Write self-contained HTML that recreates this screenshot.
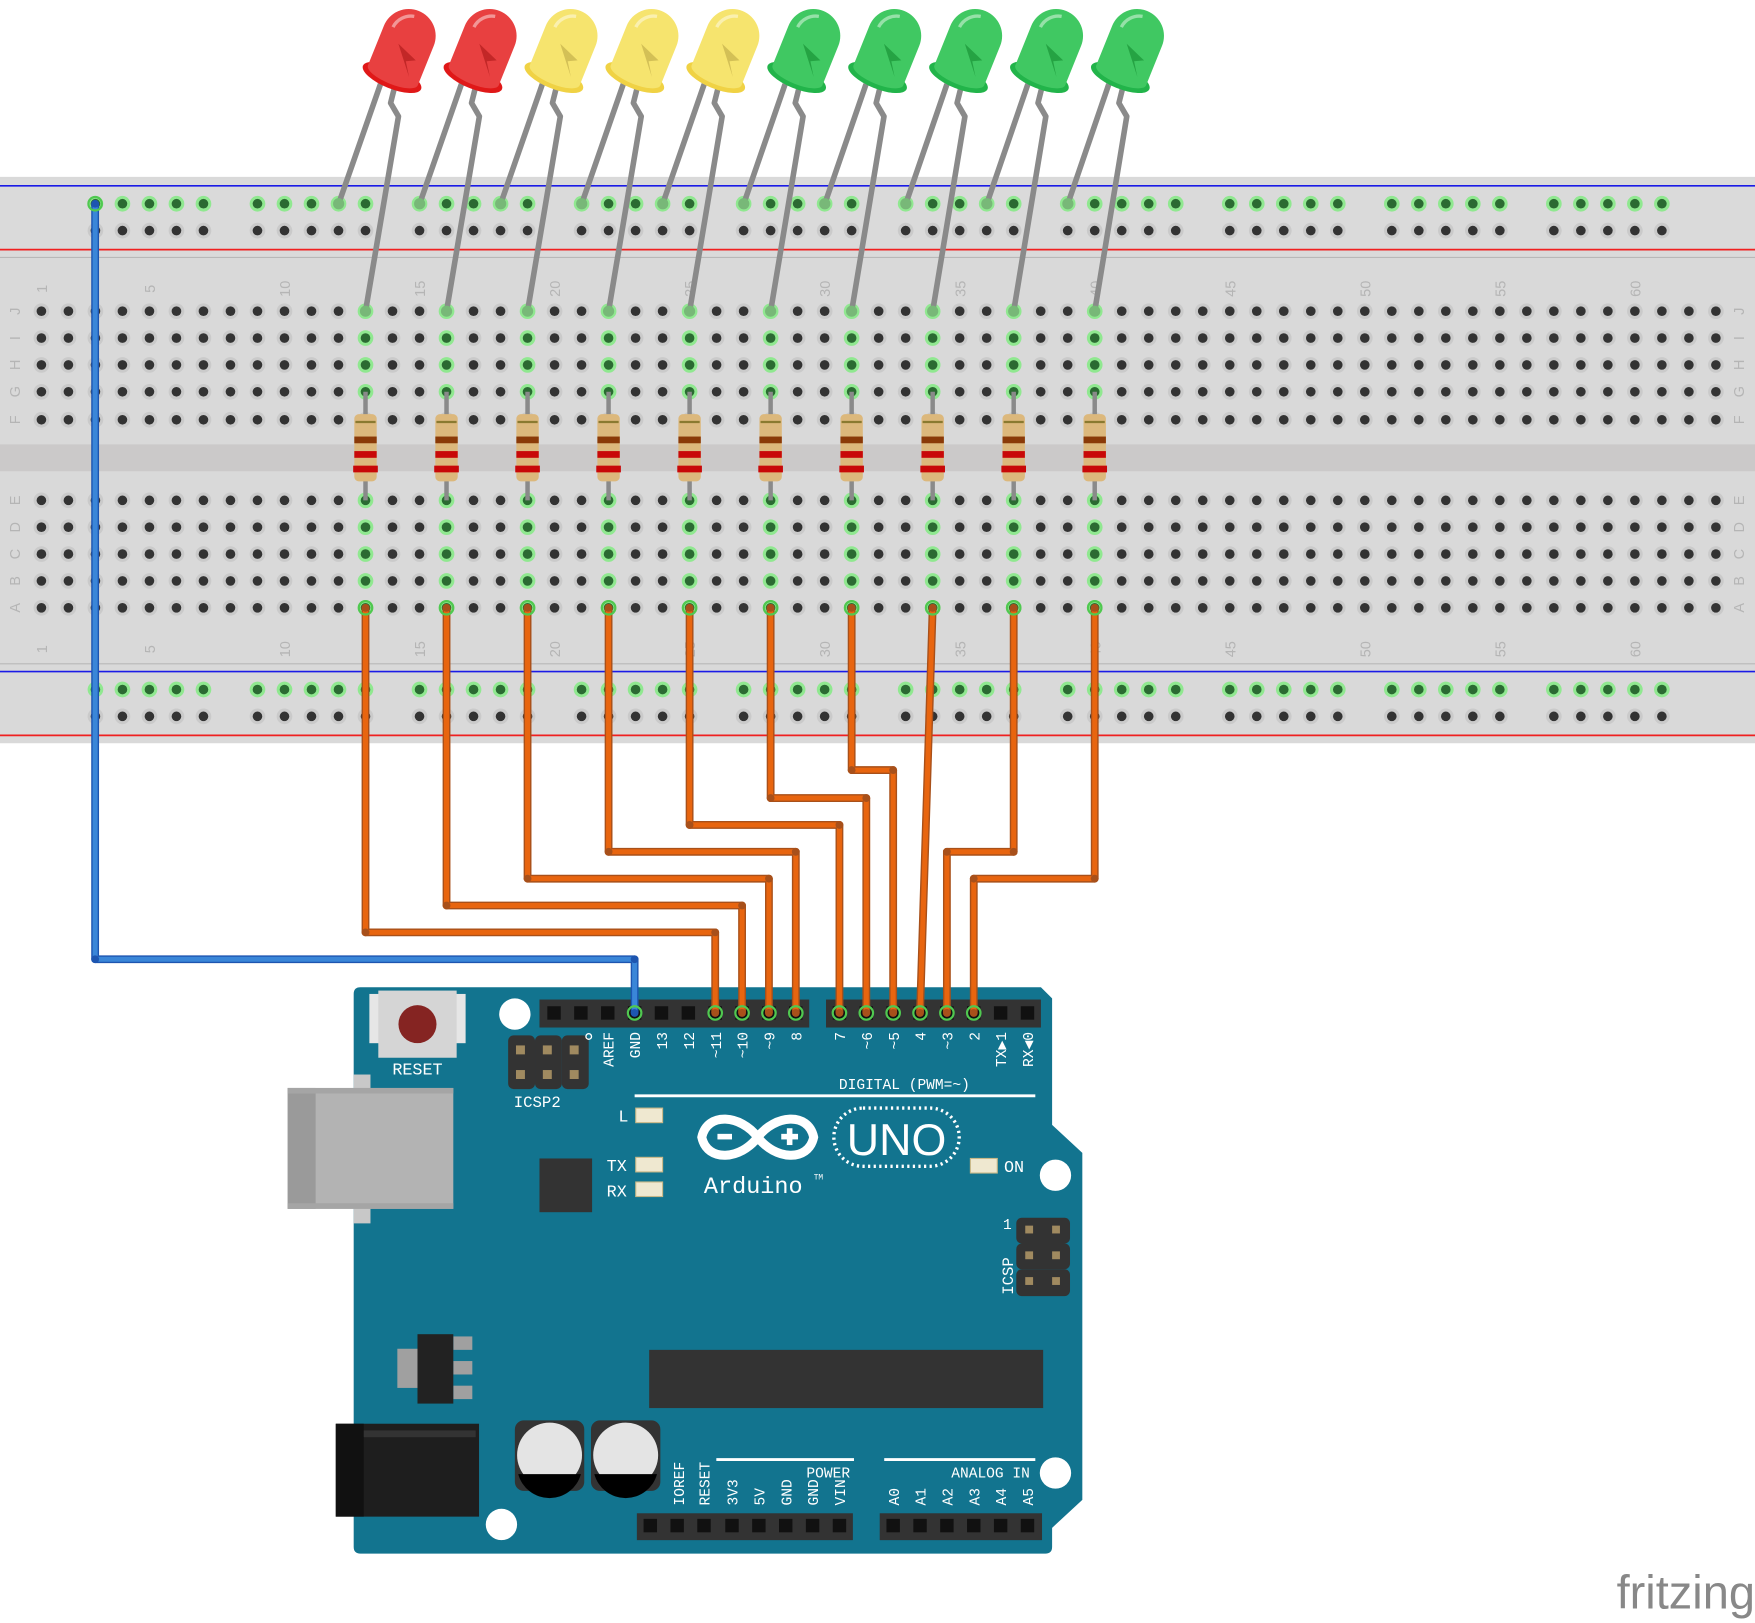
<!DOCTYPE html>
<html><head><meta charset="utf-8"><style>
html,body{margin:0;padding:0;background:#fff;width:1755px;height:1623px;overflow:hidden}
svg{display:block}
.m{font-family:"Liberation Mono","DejaVu Sans Mono",monospace;fill:#fff}
</style></head><body>
<svg id="s" width="1755" height="1623" viewBox="0 0 1568 1450" xmlns="http://www.w3.org/2000/svg">
<rect x="0" y="158" width="1568" height="506" fill="#d9d9d9"/>
<rect x="0" y="160" width="1568" height="70" fill="#dadada"/>
<line x1="0" y1="166" x2="1568" y2="166" stroke="#1a1ae6" stroke-width="1.5"/>
<line x1="0" y1="223" x2="1568" y2="223" stroke="#f02020" stroke-width="1.5"/>
<line x1="0" y1="230" x2="1568" y2="230" stroke="#b8b8b8" stroke-width="1"/>
<rect x="0" y="397" width="1568" height="24" fill="#cbc9c9"/>
<line x1="0" y1="593" x2="1568" y2="593" stroke="#b8b8b8" stroke-width="1"/>
<line x1="0" y1="600" x2="1568" y2="600" stroke="#1a1ae6" stroke-width="1.5"/>
<line x1="0" y1="657" x2="1568" y2="657" stroke="#f02020" stroke-width="1.5"/>
<g id="holes"></g>
<g id="labels" font-family="Liberation Sans, sans-serif" font-size="13" fill="#b5b5b5"></g>
<g id="parts"></g>
<g id="ard">
<path d="M322,882 L930,882 L940,892 L940,1005 L967,1030 L967,1340 L940,1365 L940,1382 Q940,1388 934,1388 L322,1388 Q316,1388 316,1382 L316,888 Q316,882 322,882 Z" fill="#12748f"/>
<rect x="316" y="960" width="15" height="133" fill="#c8c8c8"/>
<rect x="257" y="972" width="148" height="108" fill="#b3b3b3"/>
<rect x="257" y="972" width="25" height="108" fill="#9a9a9a"/>
<rect x="257" y="972" width="148" height="5" fill="#a5a5a5"/>
<rect x="257" y="1075" width="148" height="5" fill="#a5a5a5"/>
<rect x="330" y="888" width="86" height="44" fill="#e6e6e6"/>
<rect x="338" y="885" width="70" height="60" fill="#d5d5d5"/>
<ellipse cx="373" cy="915" rx="17" ry="17" fill="#852422"/>
<text x="373" y="960" class="m" font-size="15" text-anchor="middle">RESET</text>
<circle cx="460" cy="906" r="14" fill="#fff"/>
<circle cx="943" cy="1050" r="14" fill="#fff"/>
<circle cx="943" cy="1316" r="14" fill="#fff"/>
<circle cx="448" cy="1362" r="14" fill="#fff"/>
<g fill="#333"><rect x="454" y="925" width="24" height="48" rx="5"/><rect x="478" y="925" width="24" height="48" rx="5"/><rect x="502" y="925" width="24" height="48" rx="5"/></g>
<g fill="#a08a60"><rect x="461" y="934" width="8" height="8"/><rect x="485" y="934" width="8" height="8"/><rect x="509" y="934" width="8" height="8"/><rect x="461" y="956" width="8" height="8"/><rect x="485" y="956" width="8" height="8"/><rect x="509" y="956" width="8" height="8"/></g>
<circle cx="526" cy="926" r="2.5" fill="none" stroke="#fff" stroke-width="1.2"/>
<text x="480" y="989" class="m" font-size="14" text-anchor="middle">ICSP2</text>
<rect x="482" y="893" width="241" height="25" fill="#333"/>
<rect x="738" y="893" width="192" height="25" fill="#333"/>
<rect x="569" y="1352" width="193" height="24" fill="#333"/>
<rect x="786" y="1352" width="145" height="24" fill="#333"/>
<g id="pins"></g>
<line x1="567" y1="979" x2="925" y2="979" stroke="#fff" stroke-width="2.5"/>
<text x="808" y="973" class="m" font-size="13" text-anchor="middle">DIGITAL (PWM=~)</text>
<rect x="568" y="990" width="24" height="13" fill="#efe8d0" stroke="#c8b888"/>
<text x="557" y="1002" class="m" font-size="15" text-anchor="middle">L</text>
<rect x="568" y="1034" width="24" height="13" fill="#efe8d0" stroke="#c8b888"/>
<rect x="568" y="1056" width="24" height="13" fill="#efe8d0" stroke="#c8b888"/>
<text x="551" y="1046" class="m" font-size="15" text-anchor="middle">TX</text>
<text x="551" y="1069" class="m" font-size="15" text-anchor="middle">RX</text>
<rect x="867" y="1035" width="24" height="13" fill="#efe8d0" stroke="#c8b888"/>
<text x="906" y="1047" class="m" font-size="15" text-anchor="middle">ON</text>
<rect x="482" y="1035" width="47" height="48" fill="#333"/>
<g fill="none" stroke="#fff" stroke-width="8">
<path d="M677,1016 C662,996 632,993 627,1016 C632,1039 662,1036 677,1016 C692,996 722,993 727,1016 C722,1039 692,1036 677,1016 Z"/>
</g>
<rect x="641" y="1013" width="13" height="5" fill="#fff"/>
<rect x="698" y="1013" width="15" height="5" fill="#fff"/><rect x="703" y="1008" width="5" height="15" fill="#fff"/>
<rect x="745" y="990" width="112" height="52" rx="26" fill="none" stroke="#fff" stroke-width="3" stroke-dasharray="2,3"/>
<text x="801" y="1032" font-family="Liberation Sans, sans-serif" font-size="40" fill="#fff" text-anchor="middle">UNO</text>
<text x="673" y="1066" class="m" font-size="21" text-anchor="middle">Arduino</text>
<text x="727" y="1054" class="m" font-size="7">TM</text>
<g fill="#333"><rect x="908" y="1088" width="48" height="23" rx="5"/><rect x="908" y="1111" width="48" height="23" rx="5"/><rect x="908" y="1134" width="48" height="24" rx="5"/></g>
<g fill="#a08a60"><rect x="916" y="1095" width="7" height="7"/><rect x="940" y="1095" width="7" height="7"/><rect x="916" y="1118" width="7" height="7"/><rect x="940" y="1118" width="7" height="7"/><rect x="916" y="1141" width="7" height="7"/><rect x="940" y="1141" width="7" height="7"/></g>
<text x="900" y="1098" class="m" font-size="13" text-anchor="middle">1</text>
<text transform="translate(905,1140) rotate(-90)" class="m" font-size="14" text-anchor="middle">ICSP</text>
<rect x="355" y="1205" width="20" height="35" fill="#a0a0a0"/>
<rect x="405" y="1194" width="17" height="12" fill="#a0a0a0"/>
<rect x="405" y="1216" width="17" height="12" fill="#a0a0a0"/>
<rect x="405" y="1238" width="17" height="12" fill="#a0a0a0"/>
<rect x="373" y="1192" width="32" height="62" fill="#222"/>
<rect x="580" y="1206" width="352" height="52" fill="#333"/>
<rect x="300" y="1272" width="128" height="83" fill="#1e1e1e"/>
<rect x="300" y="1272" width="25" height="83" fill="#111"/>
<rect x="325" y="1278" width="100" height="6" fill="#333"/>
<rect x="460" y="1269" width="62" height="63" rx="8" fill="#333"/>
<rect x="528" y="1269" width="62" height="63" rx="8" fill="#333"/>
<ellipse cx="491" cy="1300" rx="29" ry="29" fill="#e4e4e4"/>
<ellipse cx="559" cy="1300" rx="29" ry="29" fill="#e4e4e4"/>
<path d="M463,1317 L519,1317 A29,29 0 0 1 463,1317 Z" fill="#000"/>
<path d="M531,1317 L587,1317 A29,29 0 0 1 531,1317 Z" fill="#000"/>
<line x1="640" y1="1304" x2="763" y2="1304" stroke="#fff" stroke-width="2.5"/>
<line x1="790" y1="1304" x2="925" y2="1304" stroke="#fff" stroke-width="2.5"/>
<text x="740" y="1320" class="m" font-size="13" text-anchor="middle">POWER</text>
<text x="885" y="1320" class="m" font-size="13" text-anchor="middle">ANALOG IN</text>
</g>
<g id="wires"></g>
<text x="1568" y="1437" font-family="Liberation Sans, DejaVu Sans, sans-serif" font-size="42" fill="#888" text-anchor="end">fritzing</text>
</svg>
<script>
var NS="http://www.w3.org/2000/svg";
function el(p,t,a,txt){var e=document.createElementNS(NS,t);for(var k in a)e.setAttribute(k,a[k]);if(txt!==undefined)e.textContent=txt;document.getElementById(p).appendChild(e);return e;}
function cx(c){return 37+(c-1)*24.13;}
var ledCols=[13,16,19,22,25,28,31,34,37,40];
function hole(x,y,g){el("holes","circle",{cx:x,cy:y,r:7,fill:g?"#90e890":"#cacaca"});el("holes","circle",{cx:x,cy:y,r:4.3,fill:g?"#2b6a32":"#333"});}
for(var c=3;c<=61;c++){if((c-2)%6==0)continue;
 hole(cx(c),182,true);hole(cx(c),206,false);hole(cx(c),616,true);hole(cx(c),640,false);}
var rowsT=[278,302,326,350,375],rowsB=[447,471,495,519,543];
for(var c=1;c<=63;c++){var g=ledCols.indexOf(c)>=0;
 rowsT.forEach(function(y,i){hole(cx(c),y,g&&i<4);});
 rowsB.forEach(function(y){hole(cx(c),y,g);});}
[1,5,10,15,20,25,30,35,40,45,50,55,60].forEach(function(n){
 [258,580].forEach(function(y){el("labels","text",{transform:"translate("+(cx(n)+5)+","+y+") rotate(-90)","text-anchor":"middle"},String(n));});});
var L1=["J","I","H","G","F"],L2=["E","D","C","B","A"];
[[13,0],[1553,0]].forEach(function(p){
 L1.forEach(function(l,i){el("labels","text",{transform:"translate("+(p[0]+5)+","+rowsT[i]+") rotate(-90)","text-anchor":"middle"},l);});
 L2.forEach(function(l,i){el("labels","text",{transform:"translate("+(p[0]+5)+","+rowsB[i]+") rotate(-90)","text-anchor":"middle"},l);});});
var cols=[["#e84040","#e01818","#b82020"],["#e84040","#e01818","#b82020"],["#f6e46e","#f0d244","#cbb650"],["#f6e46e","#f0d244","#cbb650"],["#f6e46e","#f0d244","#cbb650"],["#40c862","#22b44a","#1e9a3c"],["#40c862","#22b44a","#1e9a3c"],["#40c862","#22b44a","#1e9a3c"],["#40c862","#22b44a","#1e9a3c"],["#40c862","#22b44a","#1e9a3c"]];
ledCols.forEach(function(c,i){var x=cx(c);
 el("parts","line",{x1:x,y1:350,x2:x,y2:447,stroke:"#8a8a8a","stroke-width":4});
 el("parts","rect",{x:x-10,y:370,width:20,height:60,rx:4,fill:"#dcb87c"});
 el("parts","rect",{x:x-9,y:376,width:18,height:2,fill:"#8a7a30"});
 el("parts","rect",{x:x-10,y:390,width:20,height:6,fill:"#8a3a08"});
 el("parts","rect",{x:x-10,y:403,width:20,height:6,fill:"#c80808"});
 el("parts","rect",{x:x-11,y:416,width:22,height:6,fill:"#c80808"});
 var lx=360+72.3*i;
 el("parts","polyline",{points:(lx-20)+",75 "+(x-24)+",182",stroke:"#8a8a8a","stroke-width":5,fill:"none"});
 el("parts","polyline",{points:(lx-8)+",80 "+(lx-11)+",92 "+(lx-4)+",104 "+x+",278",stroke:"#8a8a8a","stroke-width":5,fill:"none","stroke-linejoin":"round"});
 el("parts","circle",{cx:x-24,cy:182,r:5,fill:"#78b878"});
 el("parts","circle",{cx:x,cy:278,r:5,fill:"#78b878"});
 var g=el("parts","g",{transform:"translate("+lx+",45) rotate(22)"});
 var co=cols[i];
 function sub(t,a){var e=document.createElementNS(NS,t);for(var k in a)e.setAttribute(k,a[k]);g.appendChild(e);}
 sub("ellipse",{cx:0,cy:26,rx:28,ry:10,fill:co[1]});
 sub("path",{d:"M-24,24 L-24,-14 A24,24 0 0 1 24,-14 L24,24 A24,8 0 0 1 -24,24 Z",fill:co[0]});
 sub("path",{d:"M-6,-4 L14,4 L6,8 L14,20 Z",fill:co[2],opacity:0.8});
 sub("path",{d:"M-16,-16 A18,18 0 0 1 -2,-32",stroke:"#fff","stroke-width":3,fill:"none",opacity:0.45});
});
var top1=[495,519,543,567,591,615,639,663,687,711],top2=[750,774,798,822,846,870,894,918];
var lab1=["","","","GND","13","12","~11","~10","~9","8"],lab2=["7","~6","~5","4","~3","2","TX▶1","RX◀0"];
function pin(x,y){el("pins","rect",{x:x-6,y:y-6,width:12,height:12,fill:"#111"});}
top1.concat(top2).forEach(function(x){pin(x,905);});
top1.forEach(function(x,i){if(lab1[i])el("pins","text",{transform:"translate("+(x+5)+",922) rotate(-90)","text-anchor":"end",class:"m","font-size":13},lab1[i]);});
el("pins","text",{transform:"translate(548,922) rotate(-90)","text-anchor":"end",class:"m","font-size":13},"AREF");
top2.forEach(function(x,i){el("pins","text",{transform:"translate("+(x+5)+",922) rotate(-90)","text-anchor":"end",class:"m","font-size":13},lab2[i]);});
var p1=[581,605,629,654,678,702,726,750],p2=[798,822,846,870,894,918];
p1.forEach(function(x){pin(x,1363);});p2.forEach(function(x){pin(x,1363);});
var pl=["IOREF","RESET","3V3","5V","GND","GND","VIN"];
[606,629,654,678,702,726,750].forEach(function(x,i){el("pins","text",{transform:"translate("+(x+5)+",1345) rotate(-90)",class:"m","font-size":13},pl[i]);});
p2.forEach(function(x,i){el("pins","text",{transform:"translate("+(x+5)+",1345) rotate(-90)",class:"m","font-size":13},"A"+i);});
function wire(pts,col,dk){var s=pts.map(function(p){return p.join(",");}).join(" ");
 el("wires","polyline",{points:s,fill:"none",stroke:dk,"stroke-width":7,"stroke-linejoin":"round"});
 el("wires","polyline",{points:s,fill:"none",stroke:col,"stroke-width":4.5,"stroke-linejoin":"round"});
 pts.forEach(function(p){el("wires","circle",{cx:p[0],cy:p[1],r:3.5,fill:dk});});
 var e=pts[pts.length-1],b=pts[0];
 el("wires","circle",{cx:e[0],cy:e[1],r:6,fill:"none",stroke:"#50c850","stroke-width":2});
 el("wires","circle",{cx:b[0],cy:b[1],r:6,fill:"none",stroke:"#50c850","stroke-width":2});}
wire([[85,182],[85,857],[567,857],[567,905]],"#3a86d8","#1d55b0");
var O="#e8650f",D="#a8501a";
var dests=[[833,639],[809,663],[785,687],[761,711],[737,750],[713,774],[688,798],[null,822],[761,846],[785,870]];
ledCols.forEach(function(c,i){var x=cx(c),d=dests[i];
 if(d[0]===null)wire([[x,543],[d[1],905]],O,D);
 else wire([[x,543],[x,d[0]],[d[1],d[0]],[d[1],905]],O,D);});
</script>
</body></html>
